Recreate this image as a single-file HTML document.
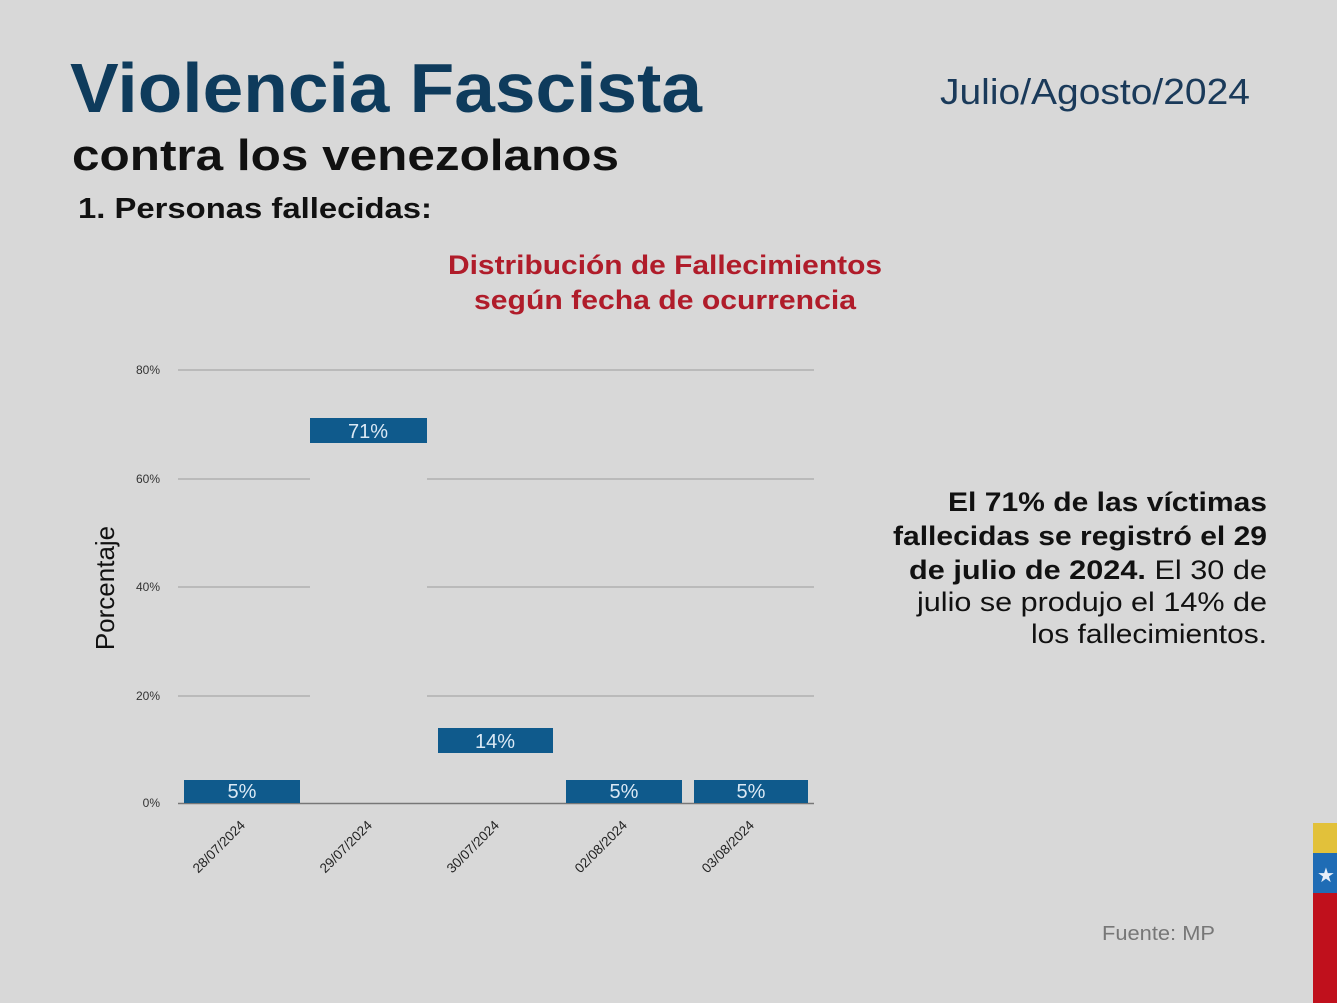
<!DOCTYPE html>
<html><head><meta charset="utf-8"><style>
html,body{margin:0;padding:0;background:#d8d8d8;width:1337px;height:1003px;overflow:hidden}
svg{display:block;font-family:"Liberation Sans",sans-serif}
</style></head><body>
<svg width="1337" height="1003" viewBox="0 0 1337 1003">
<rect width="1337" height="1003" fill="#d8d8d8"/>
<text x="70" y="112" font-size="70" font-weight="bold" fill="#0e3b5c" textLength="632" lengthAdjust="spacingAndGlyphs">Violencia Fascista</text>
<text x="72" y="170" font-size="44" font-weight="bold" fill="#111" textLength="547" lengthAdjust="spacingAndGlyphs">contra los venezolanos</text>
<text x="78" y="218" font-size="29" font-weight="bold" fill="#111" textLength="354" lengthAdjust="spacingAndGlyphs">1.  Personas fallecidas:</text>
<text x="940" y="104" font-size="36" fill="#1a3a5a" textLength="310" lengthAdjust="spacingAndGlyphs">Julio/Agosto/2024</text>
<g font-size="27" font-weight="bold" fill="#b01c2a">
<text x="448" y="274" textLength="434" lengthAdjust="spacingAndGlyphs">Distribución de Fallecimientos</text>
<text x="474" y="309" textLength="382" lengthAdjust="spacingAndGlyphs">según fecha de ocurrencia</text>
</g>
<g stroke="#a8a8a8" stroke-width="1.3">
<line x1="178" y1="370" x2="814" y2="370"/>
<line x1="178" y1="479" x2="310" y2="479"/><line x1="427" y1="479" x2="814" y2="479"/>
<line x1="178" y1="587" x2="310" y2="587"/><line x1="427" y1="587" x2="814" y2="587"/>
<line x1="178" y1="696" x2="310" y2="696"/><line x1="427" y1="696" x2="814" y2="696"/>
</g>
<line x1="178" y1="803.5" x2="814" y2="803.5" stroke="#777" stroke-width="1.5"/>
<g font-size="12" fill="#333" text-anchor="end">
<text x="160" y="374">80%</text><text x="160" y="483">60%</text><text x="160" y="591">40%</text><text x="160" y="700">20%</text><text x="160" y="807">0%</text>
</g>
<text transform="translate(114,588) rotate(-90)" font-size="26" fill="#111" text-anchor="middle">Porcentaje</text>
<g fill="#0f5a8c">
<rect x="184" y="780" width="116" height="23"/>
<rect x="310" y="418" width="117" height="25"/>
<rect x="438" y="728" width="115" height="25"/>
<rect x="566" y="780" width="116" height="23"/>
<rect x="694" y="780" width="114" height="23"/>
</g>
<g font-size="20" fill="#dbe9f5" text-anchor="middle">
<text x="242" y="798">5%</text>
<text x="368" y="438">71%</text>
<text x="495" y="748">14%</text>
<text x="624" y="798">5%</text>
<text x="751" y="798">5%</text>
</g>
<g font-size="13.5" fill="#222" text-anchor="end">
<text transform="translate(246,826) rotate(-45)">28/07/2024</text>
<text transform="translate(373,826) rotate(-45)">29/07/2024</text>
<text transform="translate(500,826) rotate(-45)">30/07/2024</text>
<text transform="translate(628,826) rotate(-45)">02/08/2024</text>
<text transform="translate(755,826) rotate(-45)">03/08/2024</text>
</g>
<g font-size="27" fill="#111">
<text x="948" y="511" font-weight="bold" textLength="319" lengthAdjust="spacingAndGlyphs">El 71% de las víctimas</text>
<text x="893" y="545" font-weight="bold" textLength="374" lengthAdjust="spacingAndGlyphs">fallecidas se registró el 29</text>
<text x="909" y="579" textLength="358" lengthAdjust="spacingAndGlyphs"><tspan font-weight="bold">de julio de 2024.</tspan>  El 30 de</text>
<text x="917" y="611" textLength="350" lengthAdjust="spacingAndGlyphs">julio se produjo el 14% de</text>
<text x="1031" y="643" textLength="236" lengthAdjust="spacingAndGlyphs">los fallecimientos.</text>
</g>
<text x="1102" y="940" font-size="20" fill="#777" textLength="113" lengthAdjust="spacingAndGlyphs">Fuente: MP</text>
<rect x="1313" y="823" width="24" height="30" fill="#e2c13a"/>
<rect x="1313" y="853" width="24" height="40" fill="#1f6cb5"/>
<rect x="1313" y="893" width="24" height="110" fill="#c0101c"/>
<text x="1326" y="882" font-size="20" fill="#e8eef8" text-anchor="middle">★</text>
</svg>
</body></html>
